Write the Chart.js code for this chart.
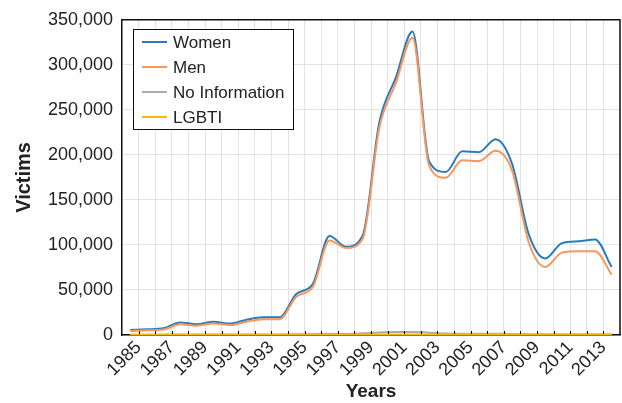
<!DOCTYPE html>
<html><head><meta charset="utf-8">
<script src="https://cdn.jsdelivr.net/npm/chart.js@4/dist/chart.umd.min.js"></script>
<style>html,body{margin:0;padding:0;background:#fff}canvas{display:block}</style>
</head><body>
<canvas id="c" width="622" height="403"></canvas>
<script>
const years = [1985,1986,1987,1988,1989,1990,1991,1992,1993,1994,1995,1996,1997,1998,1999,2000,2001,2002,2003,2004,2005,2006,2007,2008,2009,2010,2011,2012,2013,2014];
const women = [5500,6300,7400,14000,12000,14700,12700,17000,19600,19700,45500,57000,110000,98000,110500,236000,286000,337000,193000,181000,204000,203000,217500,190000,112000,85000,102000,104000,106000,75500];
const men = [4400,5200,6000,11800,10300,12800,11000,14700,17500,17500,42500,53500,105000,96500,107000,230000,280000,330000,188000,174500,194000,193000,204500,182500,103000,75500,91500,93000,93000,67000];
const noInfo = [300,350,400,500,450,500,450,550,600,600,800,900,1100,1200,1900,2900,3300,3400,2600,1800,1500,1400,1300,1200,900,700,800,800,800,600];
const lgbti = [10,10,10,20,20,20,20,30,30,30,50,60,100,100,120,200,250,300,250,230,250,250,280,260,200,180,220,240,250,200];
const seriesNames = ['Women','Men','No Information','LGBTI'];
const seriesColors = ['#2a7bba','#f9965c','#aaaaaa','#f4b90c'];
const seriesWidths = [2,2,2,2.5];
const xTickLabels = ['1985','1987','1989','1991','1993','1995','1997','1999','2001','2003','2005','2007','2009','2011','2013'];
const yTickValues = [0,50000,100000,150000,200000,250000,300000,350000];

const pts = arr => arr.map((v,i)=>({x:years[i], y:v}));
const FONT = "'Liberation Sans', Arial, Helvetica, sans-serif";
Chart.defaults.font.family = FONT;
Chart.defaults.color = '#222';

const frame = {
  id:'frame',
  afterDraw(chart){
    const {ctx, chartArea:a, scales} = chart;
    ctx.save();
    ctx.strokeStyle = '#111';
    ctx.lineWidth = 1.5;
    ctx.beginPath();
    ctx.moveTo(a.left, a.top); ctx.lineTo(a.right, a.top); ctx.lineTo(a.right, a.bottom);
    ctx.stroke();
    ctx.lineWidth = 1;
    ctx.strokeStyle = '#000';
    scales.x.ticks.forEach(t=>{
      const px = Math.round(scales.x.getPixelForValue(t.value))+0.5;
      ctx.beginPath(); ctx.moveTo(px, a.bottom-1); ctx.lineTo(px, a.bottom-4); ctx.stroke();
    });
    const lx = 133.5, ly = 29.5, lw = 160, lh = 100;
    ctx.fillStyle = '#fff';
    ctx.fillRect(lx, ly, lw, lh);
    ctx.strokeStyle = '#111';
    ctx.lineWidth = 1;
    ctx.strokeRect(lx, ly, lw, lh);
    ctx.font = "17px " + FONT;
    ctx.textBaseline = 'middle';
    ctx.textAlign = 'left';
    chart.data.datasets.forEach((ds,i)=>{
      const yy = 42 + 25*i;
      ctx.strokeStyle = ds.borderColor;
      ctx.lineWidth = 2;
      ctx.beginPath(); ctx.moveTo(142, yy); ctx.lineTo(167, yy); ctx.stroke();
      ctx.fillStyle = '#222';
      ctx.fillText(ds.label, 173, yy+1);
    });
    ctx.restore();
  }
};

const dataArrays = [women, men, noInfo, lgbti];
new Chart(document.getElementById('c'), {
  type:'line',
  data:{
    datasets: dataArrays.map((arr,i)=>({
      label: seriesNames[i],
      data: pts(arr),
      borderColor: seriesColors[i],
      backgroundColor: seriesColors[i],
      borderWidth: seriesWidths[i],
      pointRadius: 0,
      cubicInterpolationMode: 'monotone',
      fill: false,
      order: 3 - i
    }))
  },
  options:{
    responsive:false,
    animation:false,
    events:[],
    layout:{padding:{top:18,right:2,left:0,bottom:0}},
    plugins:{legend:{display:false}, tooltip:{enabled:false}},
    scales:{
      x:{
        type:'linear',
        min: years[0]-0.5,
        max: years[years.length-1]+0.5,
        afterBuildTicks: s => { s.ticks = years.slice(0,-1).map(y=>({value:y+0.5})); },
        afterFit: s => { s.height = 68; },
        ticks:{
          autoSkip:false, maxRotation:45, minRotation:45, padding:2,
          font:{size:18},
          callback: v => { const lab = String(Math.round(v-0.5)); return xTickLabels.includes(lab) ? lab : ''; }
        },
        grid:{color:'#e3e3e3', lineWidth:1, drawTicks:false},
        border:{display:true, color:'#111', width:1.5},
        title:{display:true, text:'Years', font:{size:19, weight:'bold'}, padding:{top:0,bottom:0}, color:'#222'}
      },
      y:{
        min:0, max:350000,
        afterBuildTicks: s => { s.ticks = yTickValues.map(v=>({value:v})); },
        afterFit: s => { s.width = 122; },
        ticks:{
          padding:9, font:{size:18},
          callback: v => Number(v).toLocaleString('en-US')
        },
        grid:{color:'#e3e3e3', lineWidth:1, drawTicks:false},
        border:{display:true, color:'#111', width:1.5},
        title:{display:true, text:'Victims', font:{size:20, weight:'bold'}, padding:{top:12,bottom:0}, color:'#222'}
      }
    }
  },
  plugins:[frame]
});
</script>
</body></html>
